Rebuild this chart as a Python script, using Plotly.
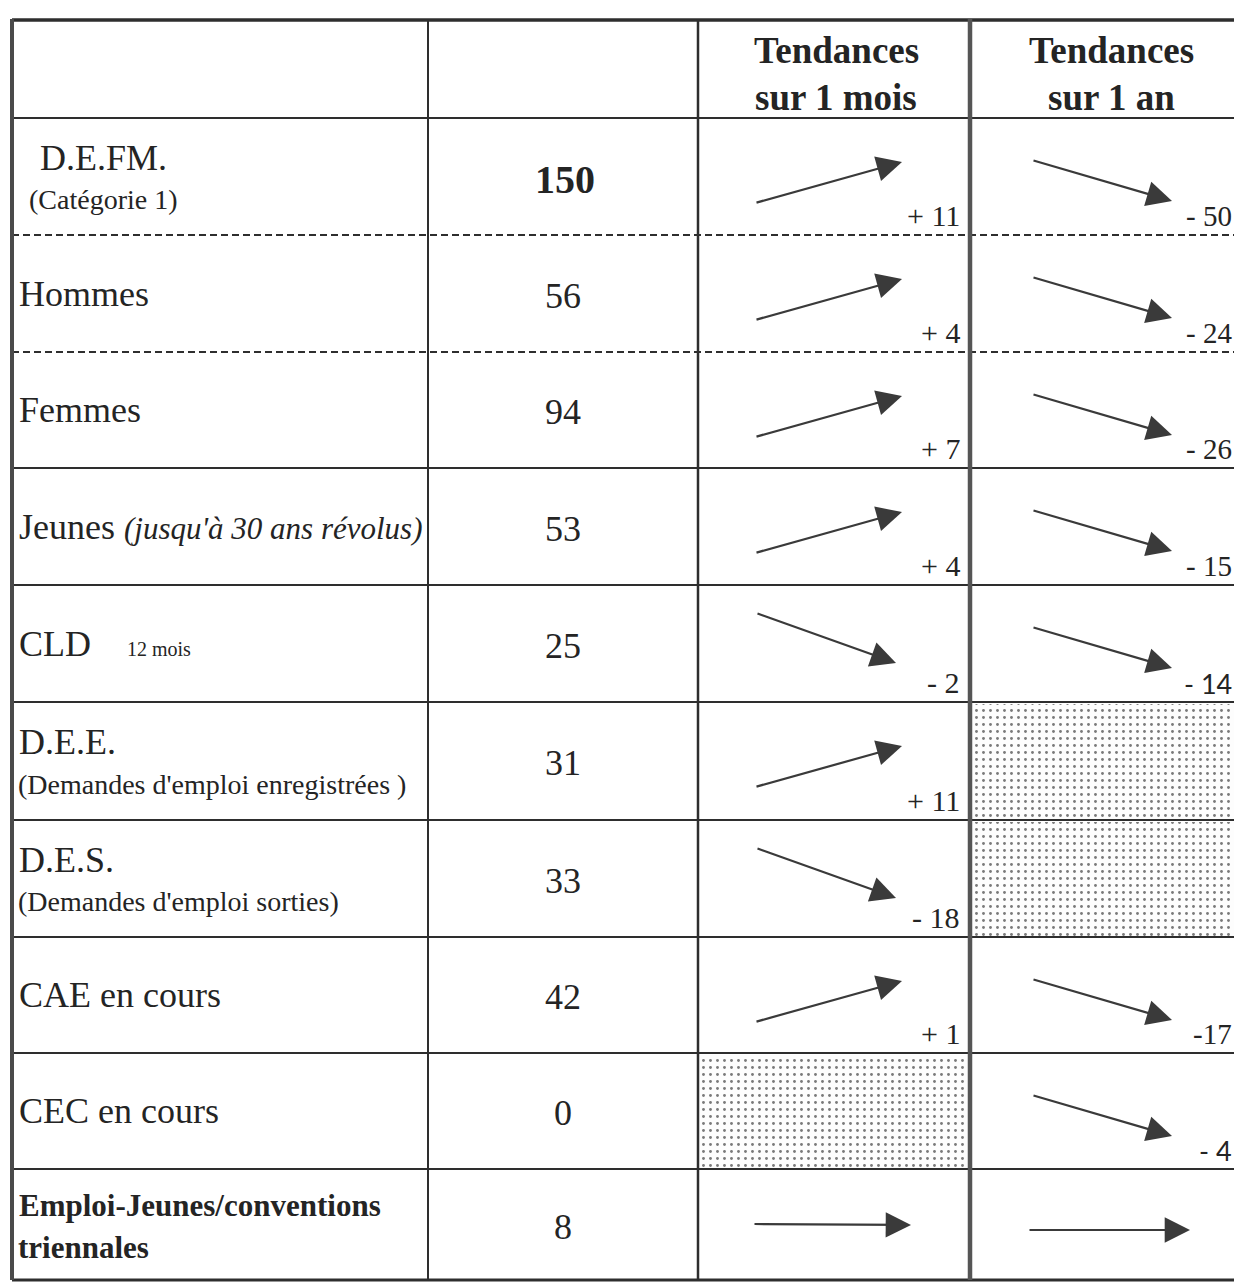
import plotly.graph_objects as go

# ---------------- data ----------------
header_month = ["Tendances", "sur 1 mois"]
header_year = ["Tendances", "sur 1 an"]

row_labels = ["D.E.FM.", "Hommes", "Femmes", "Jeunes", "CLD", "D.E.E.", "D.E.S.",
              "CAE en cours", "CEC en cours", "Emploi-Jeunes/conventions"]
row_notes = ["(Catégorie 1)", None, None, "(jusqu'à 30 ans révolus)", "12 mois",
             "(Demandes d'emploi enregistrées )", "(Demandes d'emploi sorties)",
             None, None, "triennales"]
values = [150, 56, 94, 53, 25, 31, 33, 42, 0, 8]
month_change = [11, 4, 7, 4, -2, 11, -18, 1, None, 0]
year_change = [-50, -24, -26, -15, -14, None, None, -17, -4, 0]

# ---------------- layout / style ----------------
W, H = 1234, 1282
col_edges = [12, 428, 698, 970, 1252]
row_edges = [20, 118, 235, 352, 468, 585, 702, 820, 937, 1053, 1169, 1280]
dashed_bottoms = {0, 1}          # rows whose bottom rule is dashed
note_style = ["below", None, None, "inline_italic", "inline_small",
              "below", "below", None, None, "below"]
bold_rows = {9}
centered_label_rows = {0}
bold_value_rows = {0}
tight_sign_year = {7}
sans_year = {4, 8}

SERIF = "Liberation Serif"
SANS = "Lato"
INK = "#242424"
LINE = "#2e2e2e"
ARROW = "#3a3a3a"

fig = go.Figure()
annotations = []
shapes = []


def txt(x, y, s, size, xanchor="left", family=SERIF, yanchor="middle"):
    annotations.append(dict(x=x, y=y, xref="x", yref="y", text=s, showarrow=False,
                            xanchor=xanchor, yanchor=yanchor,
                            font=dict(family=family, size=size, color=INK)))


def fmt_change(v, tight=False):
    sign = "+" if v > 0 else "-"
    gap = "" if tight else " "
    return f"{sign}{gap}{abs(v)}"


# stippled (not applicable) cells
def stipple(x0, x1, y0, y1):
    fig.add_trace(go.Scatter(
        x=[x0, x1, x1, x0, x0], y=[y0, y0, y1, y1, y0], mode="lines",
        line=dict(width=0), fill="toself", fillcolor="white",
        fillpattern=dict(shape=".", size=7, solidity=0.13, fgcolor="#7a7a7a",
                         bgcolor="#fdfdfd", fillmode="replace"),
        hoverinfo="skip", showlegend=False))


# header
c3 = (col_edges[2] + col_edges[3]) / 2
c4 = (col_edges[3] + col_edges[4]) / 2
for i, line in enumerate(header_month):
    txt(c3 + 2, 50 + 47 * i, f"<b>{line}</b>", 37, "center")
for i, line in enumerate(header_year):
    txt(c4, 50 + 47 * i, f"<b>{line}</b>", 37, "center")

# body rows
for r in range(len(row_labels)):
    top, bot = row_edges[r + 1], row_edges[r + 2]
    cy = (top + bot) / 2
    lab = row_labels[r]
    note = row_notes[r]
    style = note_style[r]
    bold = r in bold_rows
    main_size = 31 if bold else 36
    main = f"<b>{lab}</b>" if bold else lab

    if r in centered_label_rows:
        lx, anchor = 103, "center"
    else:
        lx, anchor = 17, "left"

    if style == "below":
        txt(lx, cy - 19, main, main_size, anchor)
        nt = f"<b>{note}</b>" if bold else note
        txt(lx if anchor == "center" else lx - 1, cy + 23, nt, 31 if bold else 28, anchor)
    elif style == "inline_italic":
        txt(lx, cy, f"{main} <i><span style='font-size:31px;font-family:{SERIF}'>{note}</span></i>",
            main_size, anchor)
    elif style == "inline_small":
        txt(lx, cy, f"{main}    <span style='font-size:20px;font-family:{SERIF}'>{note}</span>",
            main_size, anchor)
    else:
        txt(lx, cy, main, main_size, anchor)

    # value column
    vx = (col_edges[1] + col_edges[2]) / 2
    if r in bold_value_rows:
        txt(vx + 2, cy + 3, f"<b>{values[r]}</b>", 40, "center")
    else:
        txt(vx, cy + 2, str(values[r]), 36, "center")

    # trend columns
    for ci, (vals, col) in enumerate([(month_change, 2), (year_change, 3)]):
        v = vals[r]
        x0, x1 = col_edges[col], col_edges[col + 1]
        if v is None:
            stipple(x0 + 2, x1 + 2, top + 2, bot - 1)
            continue
        if ci == 0:
            if v > 0:
                tail, tip = (57, 85), (204, 44)
            elif v < 0:
                tail, tip = (58, 28), (198, 78)
            else:
                tail, tip = (55, 55), (213, 56)
        else:
            if v > 0:
                tail, tip = (64, 82), (202, 42)
            elif v < 0:
                tail, tip = (62, 42), (202, 83)
            else:
                tail, tip = (58, 61), (220, 61)
        annotations.append(dict(
            x=x0 + tip[0], y=top + tip[1], ax=x0 + tail[0], ay=top + tail[1],
            xref="x", yref="y", axref="x", ayref="y", text="", showarrow=True,
            arrowhead=2, arrowsize=2.3, arrowwidth=2.2, arrowcolor=ARROW, standoff=0))
        if v != 0:
            if ci == 0:
                s = fmt_change(v)
                txt(x1 - 8, bot - 20, s, 30, "right")
            else:
                s = fmt_change(v, tight=(r in tight_sign_year))
                fam = SANS if r in sans_year else SERIF
                txt(W - 0.5, bot - 19, s, 29 if fam == SERIF else 27, "right", family=fam)

# horizontal rules
for i, y in enumerate(row_edges):
    if i == 0:
        w = 3.5
    elif i == len(row_edges) - 1:
        w = 3
    else:
        w = 2.2
    dash = "solid"
    if i >= 2 and (i - 2) in dashed_bottoms:
        dash = "7px,4px"
        w = 1.8
    shapes.append(dict(type="line", xref="x", yref="y", x0=col_edges[0], x1=W + 20,
                       y0=y, y1=y, line=dict(color=LINE, width=w, dash=dash)))

# vertical rules
vwidths = [4, 2, 2.5, 4.5, 2]
vcolors = ["#4a4a4a", LINE, LINE, "#555555", LINE]
for x, w, c in zip(col_edges, vwidths, vcolors):
    shapes.append(dict(type="line", xref="x", yref="y", x0=x, x1=x,
                       y0=row_edges[0] - 1, y1=row_edges[-1], line=dict(color=c, width=w)))

fig.update_layout(
    width=W, height=H, margin=dict(l=0, r=0, t=0, b=0),
    paper_bgcolor="white", plot_bgcolor="white",
    xaxis=dict(range=[0, W], visible=False, fixedrange=True),
    yaxis=dict(range=[H, 0], visible=False, fixedrange=True),
    annotations=annotations, shapes=shapes, showlegend=False,
)

fig.write_html("out.html", config={"displayModeBar": False},
               post_script="document.body.style.margin='0';document.body.style.overflow='hidden';")
